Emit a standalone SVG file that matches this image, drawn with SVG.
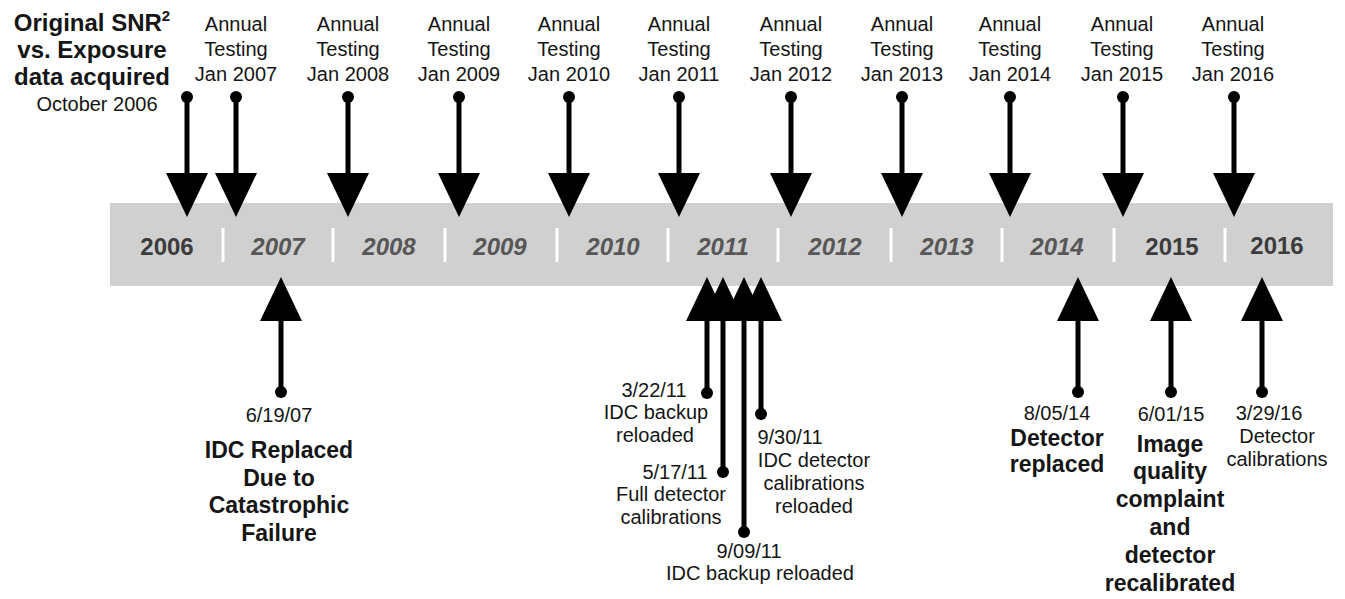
<svg xmlns="http://www.w3.org/2000/svg" width="1345" height="599" viewBox="0 0 1345 599">
<style>
text{font-family:"Liberation Sans",Arial,sans-serif;fill:#151515;text-anchor:middle}
.r{font-size:20px}
.b{font-size:23px;font-weight:bold}
.t{font-size:24px;font-weight:bold}
.yr{font-size:24px;font-weight:bold;fill:#3c3c3c}
.yi{font-size:24px;font-weight:bold;font-style:italic;fill:#575757}
.sep{stroke:#ffffff;stroke-width:3}
.arr{stroke:#000;stroke-width:5;fill:none;marker-start:url(#dot);marker-end:url(#ah)}
</style>
<defs>
<marker id="ah" markerUnits="userSpaceOnUse" markerWidth="44" markerHeight="42" viewBox="0 0 44 42" refX="1" refY="21" orient="auto"><path d="M0,0 L44,21 L0,42 z" fill="#000"/></marker>
<marker id="dot" markerUnits="userSpaceOnUse" markerWidth="14" markerHeight="14" viewBox="-7 -7 14 14" refX="0" refY="0"><circle r="6" fill="#000"/></marker>
</defs>
<rect width="1345" height="599" fill="#fff"/>
<g id="timeline">
<rect x="110" y="203" width="1223" height="83" fill="#d0d0d0"/>
<g class="sep">
<line x1="223" y1="228" x2="223" y2="262"/><line x1="333" y1="228" x2="333" y2="262"/><line x1="445" y1="228" x2="445" y2="262"/><line x1="557" y1="228" x2="557" y2="262"/><line x1="668" y1="228" x2="668" y2="262"/><line x1="778" y1="228" x2="778" y2="262"/><line x1="891" y1="228" x2="891" y2="262"/><line x1="1002" y1="228" x2="1002" y2="262"/><line x1="1114" y1="228" x2="1114" y2="262"/><line x1="1225" y1="228" x2="1225" y2="262"/>
</g>
<text class="yr" x="167" y="255">2006</text>
<text class="yi" x="278" y="255">2007</text>
<text class="yi" x="389" y="255">2008</text>
<text class="yi" x="500" y="255">2009</text>
<text class="yi" x="613" y="255">2010</text>
<text class="yi" x="723" y="255">2011</text>
<text class="yi" x="835" y="255">2012</text>
<text class="yi" x="947" y="255">2013</text>
<text class="yi" x="1057" y="255">2014</text>
<text class="yr" x="1172" y="255">2015</text>
<text class="yr" x="1277" y="254">2016</text>
</g>
<g id="connectors">
<line class="arr" x1="187" y1="97" x2="187" y2="174"/>
<line class="arr" x1="236" y1="97" x2="236" y2="174"/>
<line class="arr" x1="348" y1="97" x2="348" y2="174"/>
<line class="arr" x1="459" y1="97" x2="459" y2="174"/>
<line class="arr" x1="569" y1="97" x2="569" y2="174"/>
<line class="arr" x1="679" y1="97" x2="679" y2="174"/>
<line class="arr" x1="791" y1="97" x2="791" y2="174"/>
<line class="arr" x1="902" y1="97" x2="902" y2="174"/>
<line class="arr" x1="1010" y1="97" x2="1010" y2="174"/>
<line class="arr" x1="1123" y1="97" x2="1123" y2="174"/>
<line class="arr" x1="1234" y1="97" x2="1234" y2="174"/>
<line class="arr" x1="281" y1="392" x2="281" y2="320"/>
<line class="arr" x1="707" y1="393" x2="707" y2="320"/>
<line class="arr" x1="723" y1="472" x2="723" y2="320"/>
<line class="arr" x1="744" y1="532" x2="744" y2="320"/>
<line class="arr" x1="761" y1="414" x2="761" y2="320"/>
<line class="arr" x1="1078" y1="392" x2="1078" y2="320"/>
<line class="arr" x1="1171" y1="392" x2="1171" y2="320"/>
<line class="arr" x1="1262" y1="392" x2="1262" y2="320"/>
</g>
<g id="n-original">
<text class="t" x="92" y="31">Original SNR<tspan font-size="15" dy="-10">2</tspan></text>
<text class="t" x="92" y="58">vs. Exposure</text>
<text class="t" x="92" y="85">data acquired</text>
<text class="r" x="97" y="111" font-size="19">October 2006</text>
</g>
<g id="n-2007"><text class="r" x="236" y="31">Annual</text><text class="r" x="236" y="56">Testing</text><text class="r" x="236" y="81">Jan 2007</text></g>
<g id="n-2008"><text class="r" x="348" y="31">Annual</text><text class="r" x="348" y="56">Testing</text><text class="r" x="348" y="81">Jan 2008</text></g>
<g id="n-2009"><text class="r" x="459" y="31">Annual</text><text class="r" x="459" y="56">Testing</text><text class="r" x="459" y="81">Jan 2009</text></g>
<g id="n-2010"><text class="r" x="569" y="31">Annual</text><text class="r" x="569" y="56">Testing</text><text class="r" x="569" y="81">Jan 2010</text></g>
<g id="n-2011"><text class="r" x="679" y="31">Annual</text><text class="r" x="679" y="56">Testing</text><text class="r" x="679" y="81">Jan 2011</text></g>
<g id="n-2012"><text class="r" x="791" y="31">Annual</text><text class="r" x="791" y="56">Testing</text><text class="r" x="791" y="81">Jan 2012</text></g>
<g id="n-2013"><text class="r" x="902" y="31">Annual</text><text class="r" x="902" y="56">Testing</text><text class="r" x="902" y="81">Jan 2013</text></g>
<g id="n-2014"><text class="r" x="1010" y="31">Annual</text><text class="r" x="1010" y="56">Testing</text><text class="r" x="1010" y="81">Jan 2014</text></g>
<g id="n-2015"><text class="r" x="1122" y="31">Annual</text><text class="r" x="1122" y="56">Testing</text><text class="r" x="1122" y="81">Jan 2015</text></g>
<g id="n-2016"><text class="r" x="1233" y="31">Annual</text><text class="r" x="1233" y="56">Testing</text><text class="r" x="1233" y="81">Jan 2016</text></g>
<g id="n-061907">
<text class="r" x="279" y="422">6/19/07</text>
<text class="b" x="279" y="458">IDC Replaced</text>
<text class="b" x="279" y="486">Due to</text>
<text class="b" x="279" y="513">Catastrophic</text>
<text class="b" x="279" y="541">Failure</text>
</g>
<g id="n-032211">
<text class="r" x="654" y="396.5">3/22/11</text>
<text class="r" x="656" y="419">IDC backup</text>
<text class="r" x="655" y="441.5">reloaded</text>
</g>
<g id="n-051711">
<text class="r" x="675" y="478.5">5/17/11</text>
<text class="r" x="671" y="501">Full detector</text>
<text class="r" x="671" y="523.5">calibrations</text>
</g>
<g id="n-093011">
<text class="r" x="790" y="444">9/30/11</text>
<text class="r" x="814" y="467">IDC detector</text>
<text class="r" x="814" y="490">calibrations</text>
<text class="r" x="814" y="512.5">reloaded</text>
</g>
<g id="n-090911">
<text class="r" x="749" y="557.5">9/09/11</text>
<text class="r" x="760" y="580">IDC backup reloaded</text>
</g>
<g id="n-080514">
<text class="r" x="1057" y="420">8/05/14</text>
<text class="b" x="1057" y="446">Detector</text>
<text class="b" x="1057" y="472">replaced</text>
</g>
<g id="n-060115">
<text class="r" x="1171" y="421">6/01/15</text>
<text class="b" x="1170" y="452">Image</text>
<text class="b" x="1170" y="479">quality</text>
<text class="b" x="1170" y="507">complaint</text>
<text class="b" x="1170" y="535">and</text>
<text class="b" x="1170" y="563">detector</text>
<text class="b" x="1170" y="591">recalibrated</text>
</g>
<g id="n-032916">
<text class="r" x="1269" y="420">3/29/16</text>
<text class="r" x="1277" y="443">Detector</text>
<text class="r" x="1277" y="465.5">calibrations</text>
</g>
</svg>
